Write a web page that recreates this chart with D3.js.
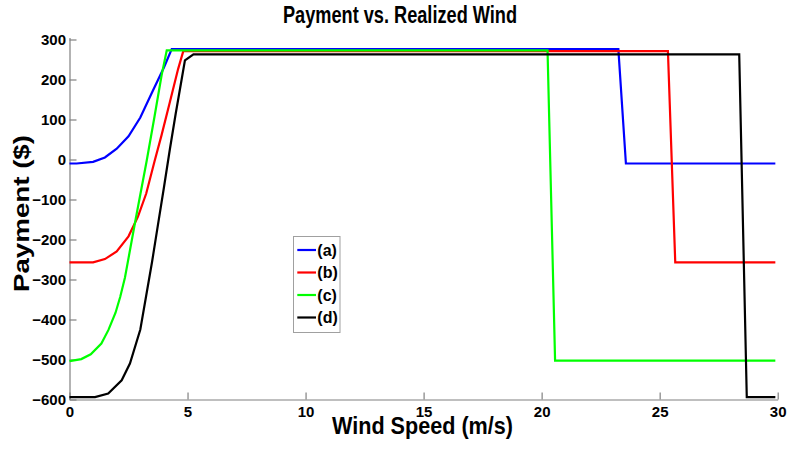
<!DOCTYPE html>
<html>
<head>
<meta charset="utf-8">
<script src="https://cdn.jsdelivr.net/npm/d3@7/dist/d3.min.js"></script>
<style>
  html, body { margin: 0; padding: 0; background: #fff; }
  svg { display: block; }
  text { font-family: "Liberation Sans", Arial, sans-serif; font-weight: bold; fill: #000; }
</style>
</head>
<body>
<svg id="chart" width="788" height="449"></svg>
<script>
// ---- Data ----
const seriesNames = ["(a)", "(b)", "(c)", "(d)"];
const seriesColors = ["#0000ff", "#ff0000", "#00ff00", "#000000"];

const windA = [0, 0.3, 1.0, 1.5, 2.0, 2.5, 3.0, 3.5, 4.0, 4.33, 23.25, 23.57, 29.9];
const payA  = [-10, -10, -6, 5, 27, 58, 105, 168, 230, 276, 276, -10, -10];

const windB = [0, 1.0, 1.5, 2.0, 2.5, 2.9, 3.25, 3.6, 3.9, 4.25, 4.6, 4.82, 25.35, 25.66, 29.9];
const payB  = [-257, -257, -249, -230, -192, -143, -85, -5, 61, 143, 226, 271, 271, -257, -257];

const windC = [0, 0.5, 0.9, 1.35, 1.65, 1.95, 2.15, 2.35, 2.8, 3.27, 3.6, 3.9, 4.12, 20.25, 20.57, 29.9];
const payC  = [-504, -499, -487, -460, -426, -383, -343, -295, -150, -3, 107, 210, 273, 273, -503, -503];

const windD = [0, 1.08, 1.64, 2.21, 2.56, 3.0, 3.25, 3.5, 3.75, 4.0, 4.25, 4.5, 4.75, 4.89, 5.25, 28.37, 28.69, 29.9];
const payD  = [-594, -594, -585, -552, -510, -425, -340, -255, -162, -70, 25, 115, 200, 248, 263, 263, -594, -594];

const xTicks = [0, 5, 10, 15, 20, 25, 30];
const yTicks = [-600, -500, -400, -300, -200, -100, 0, 100, 200, 300];

const titleText = "Payment vs. Realized Wind";
const xLabelText = "Wind Speed (m/s)";
const yLabelText = "Payment ($)";

// ---- Build ----
const svg = d3.select("#chart");
const x = d3.scaleLinear().domain([0, 30]).range([69.5, 777.7]);
const y = d3.scaleLinear().domain([-600, 305]).range([399.5, 37.5]);

const axisColor = "#808080";

// axes
const gx = svg.append("g").attr("transform", `translate(0,${y(-600)})`)
  .call(d3.axisBottom(x).tickValues(xTicks).tickFormat(d3.format("d"))
        .tickSizeInner(-7).tickSizeOuter(0).tickPadding(7));
const gy = svg.append("g").attr("transform", `translate(${x(0)},0)`)
  .call(d3.axisLeft(y).tickValues(yTicks).tickFormat(d3.format("d"))
        .tickSizeInner(-7).tickSizeOuter(0).tickPadding(3.5));

[gx, gy].forEach(g => {
  g.select(".domain").attr("stroke", axisColor).attr("stroke-width", 1.2);
  g.selectAll(".tick line").attr("stroke", axisColor).attr("stroke-width", 1.2);
  g.selectAll(".tick text").attr("font-size", 15).attr("font-family", "Liberation Sans, Arial, sans-serif")
    .attr("font-weight", "bold").attr("fill", "#000");
});

// lines
const seriesData = [
  d3.zip(windA, payA),
  d3.zip(windB, payB),
  d3.zip(windC, payC),
  d3.zip(windD, payD)
];
const line = d3.line().x(d => x(d[0])).y(d => y(d[1]));
svg.append("g").selectAll("path").data(seriesData).join("path")
  .attr("d", line)
  .attr("fill", "none")
  .attr("stroke", (d, i) => seriesColors[i])
  .attr("stroke-width", 2.2)
  .attr("stroke-linejoin", "miter");

// title
svg.append("text").attr("x", 283).attr("y", 23)
  .attr("font-size", 23).attr("textLength", 234).attr("lengthAdjust", "spacingAndGlyphs")
  .text(titleText);

// x label
svg.append("text").attr("x", 332).attr("y", 434)
  .attr("font-size", 24).attr("textLength", 181).attr("lengthAdjust", "spacingAndGlyphs")
  .text(xLabelText);

// y label
svg.append("text").attr("transform", "translate(28.5,292) rotate(-90)")
  .attr("x", 0).attr("y", 0)
  .attr("font-size", 22).attr("textLength", 157).attr("lengthAdjust", "spacingAndGlyphs")
  .text(yLabelText);

// legend
const lg = svg.append("g");
lg.append("rect").attr("x", 293.5).attr("y", 236.5).attr("width", 46.5).attr("height", 96)
  .attr("fill", "#fff").attr("stroke", "#a0a0a0").attr("stroke-width", 1);
const legendY = [250, 272.5, 295, 317.5];
seriesNames.forEach((name, i) => {
  lg.append("line").attr("x1", 297.3).attr("x2", 316).attr("y1", legendY[i]).attr("y2", legendY[i])
    .attr("stroke", seriesColors[i]).attr("stroke-width", 2.2);
  lg.append("text").attr("x", 317.3).attr("y", legendY[i] + 5.5)
    .attr("font-size", 16).text(name);
});
</script>
</body>
</html>
